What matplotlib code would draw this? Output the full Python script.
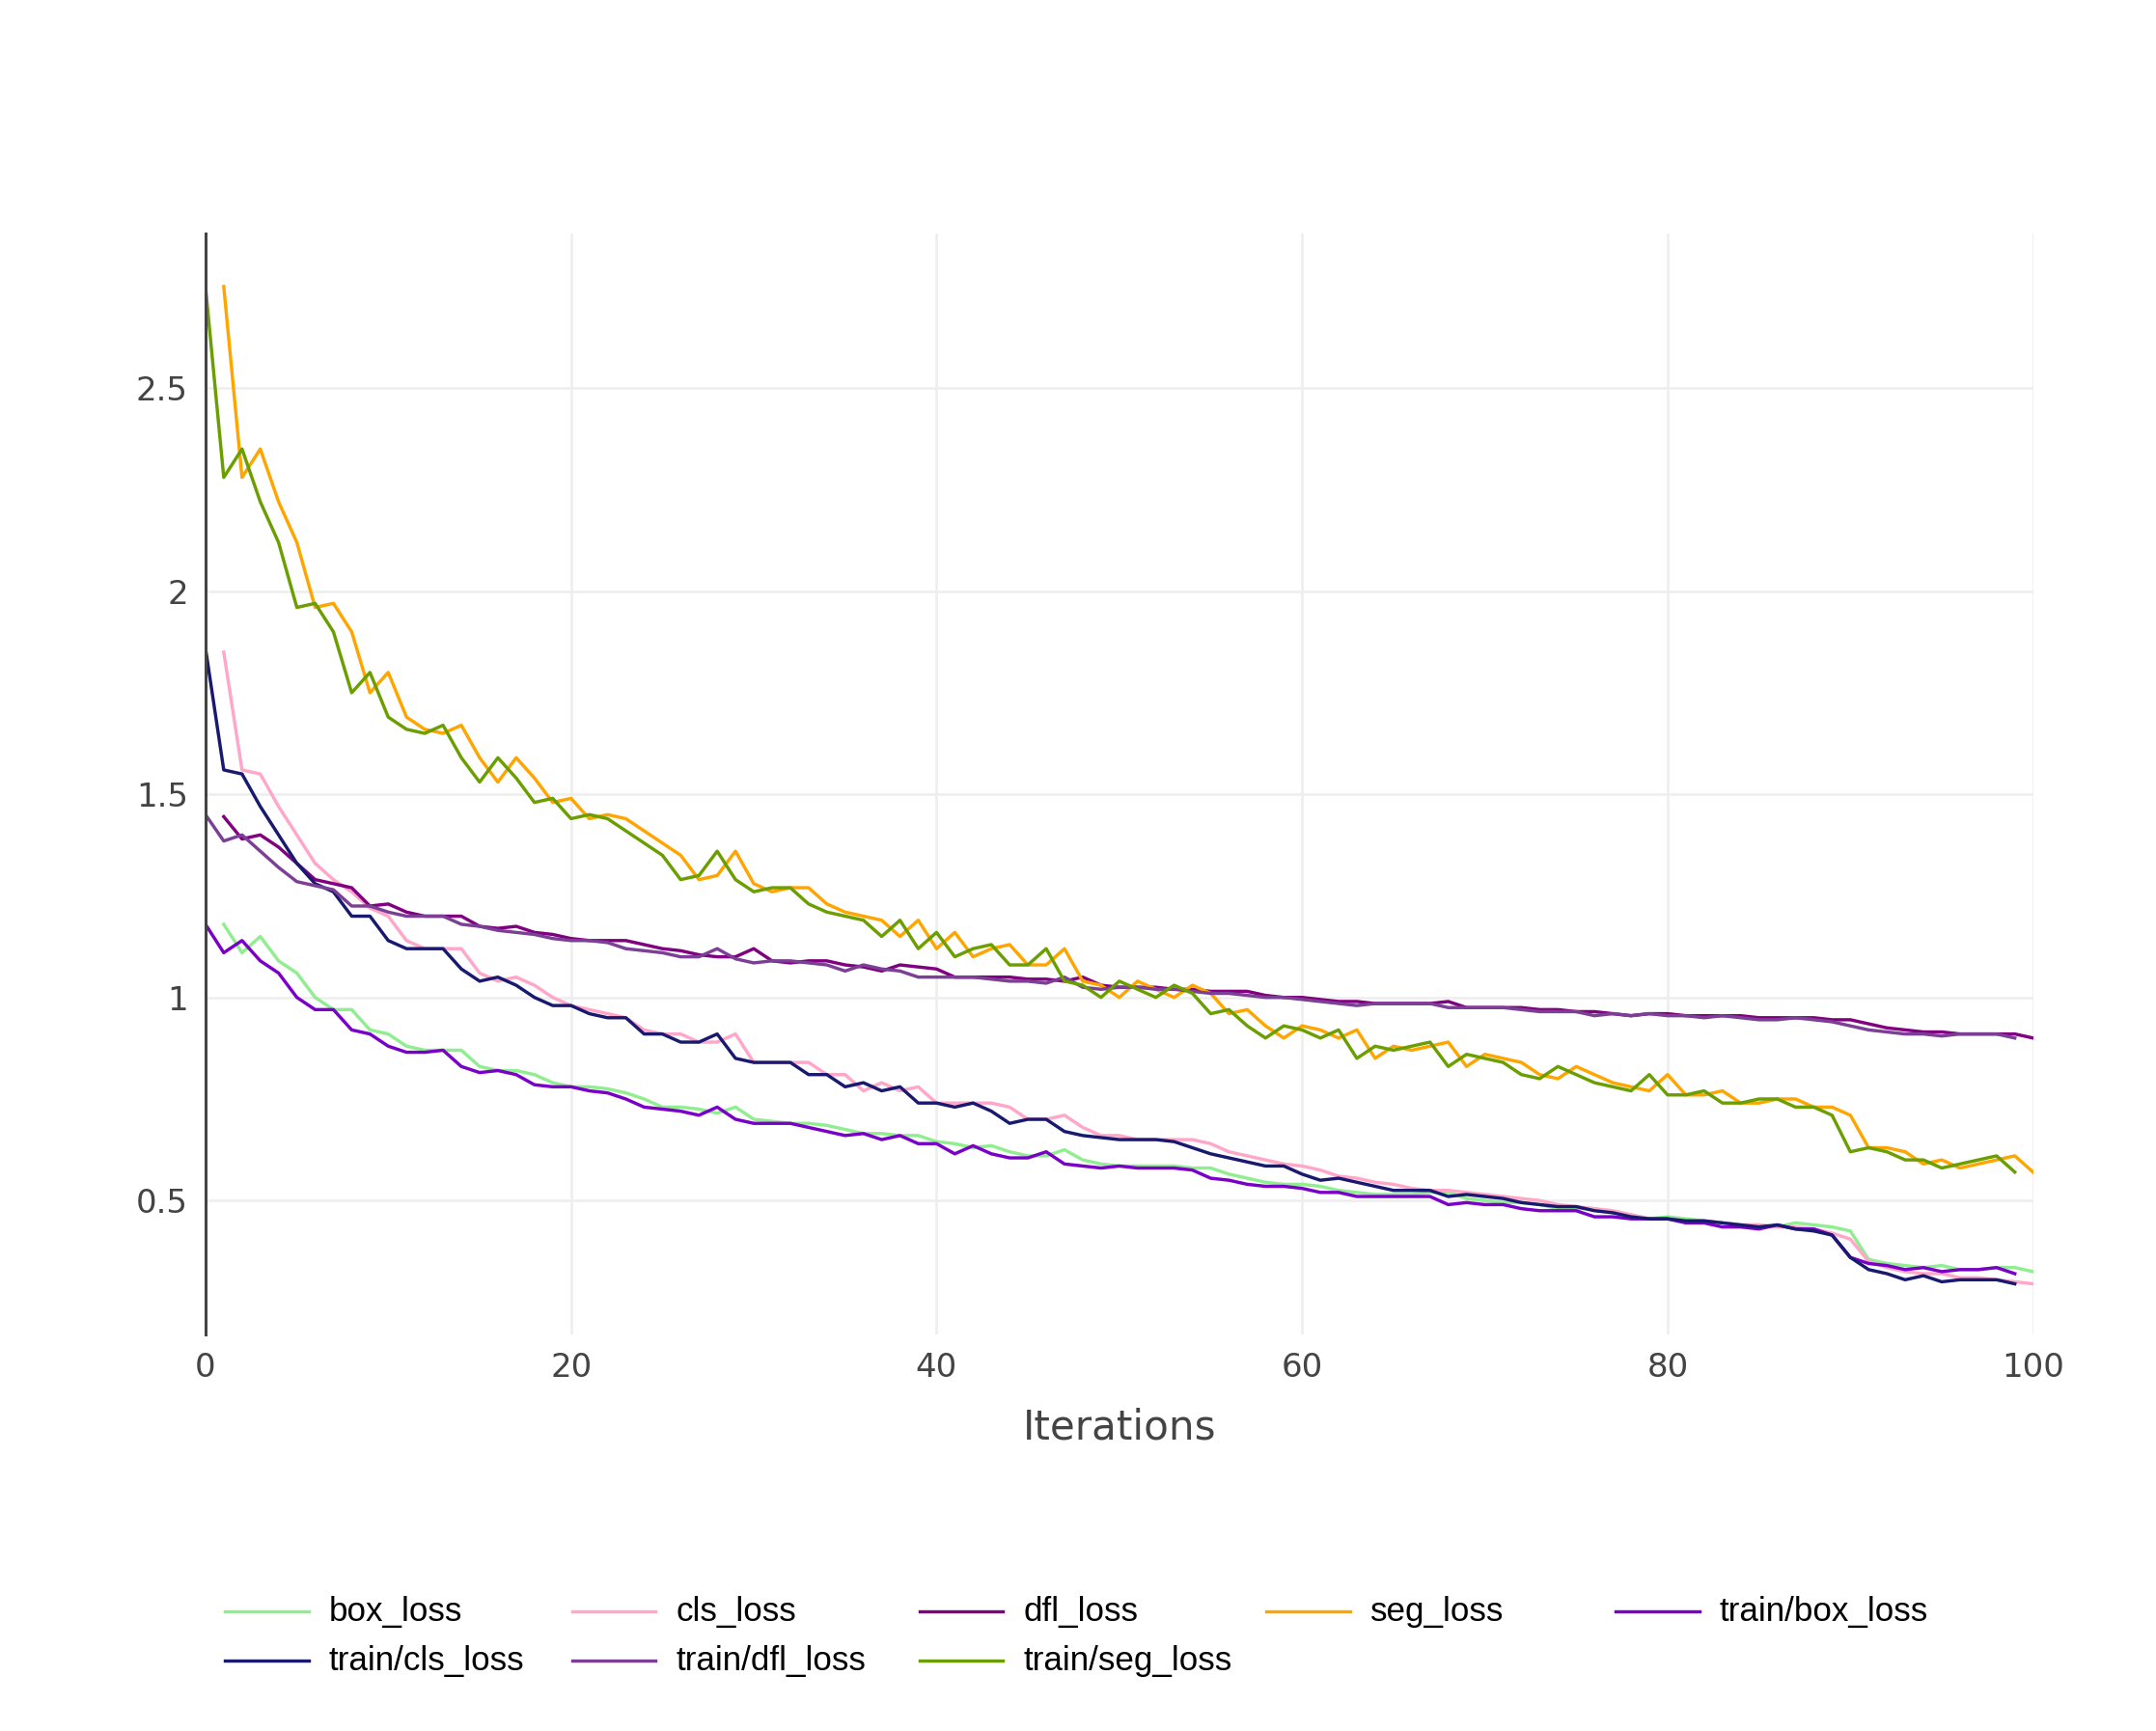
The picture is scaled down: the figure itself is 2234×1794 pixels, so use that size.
import matplotlib
matplotlib.use("Agg")
import matplotlib.pyplot as plt
from matplotlib.lines import Line2D
import numpy as np

# epochs: train series 0..99, validation series 1..100
train_x = np.arange(0, 100)
val_x = np.arange(1, 101)

box_loss = [1.18, 1.11, 1.15, 1.09, 1.06, 1.00, 0.97, 0.97, 0.92, 0.91,
            0.88, 0.87, 0.87, 0.87, 0.83, 0.82, 0.82, 0.81, 0.79, 0.78,
            0.78, 0.775, 0.765, 0.75, 0.73, 0.73, 0.725, 0.715, 0.73, 0.70,
            0.695, 0.69, 0.69, 0.685, 0.675, 0.665, 0.665, 0.66, 0.66, 0.645,
            0.64, 0.63, 0.635, 0.62, 0.61, 0.61, 0.625, 0.60, 0.59, 0.585,
            0.585, 0.585, 0.585, 0.58, 0.58, 0.565, 0.555, 0.545, 0.54, 0.54,
            0.535, 0.525, 0.52, 0.515, 0.515, 0.515, 0.52, 0.52, 0.505, 0.50,
            0.495, 0.495, 0.49, 0.48, 0.48, 0.48, 0.47, 0.465, 0.455, 0.46,
            0.455, 0.45, 0.445, 0.44, 0.44, 0.435, 0.445, 0.44, 0.435, 0.425,
            0.355, 0.345, 0.34, 0.335, 0.34, 0.33, 0.33, 0.335, 0.335, 0.325]

cls_loss = [1.85, 1.56, 1.55, 1.47, 1.40, 1.33, 1.29, 1.26, 1.22, 1.20,
            1.14, 1.12, 1.12, 1.12, 1.06, 1.04, 1.05, 1.03, 1.00, 0.98,
            0.97, 0.96, 0.95, 0.92, 0.91, 0.91, 0.89, 0.89, 0.91, 0.84,
            0.84, 0.84, 0.84, 0.81, 0.81, 0.77, 0.79, 0.77, 0.78, 0.74,
            0.74, 0.74, 0.74, 0.73, 0.70, 0.70, 0.71, 0.68, 0.66, 0.66,
            0.65, 0.65, 0.65, 0.65, 0.64, 0.62, 0.61, 0.60, 0.59, 0.585,
            0.575, 0.56, 0.555, 0.545, 0.54, 0.53, 0.525, 0.525, 0.52, 0.515,
            0.51, 0.505, 0.50, 0.49, 0.485, 0.48, 0.475, 0.465, 0.455, 0.455,
            0.45, 0.45, 0.445, 0.44, 0.44, 0.435, 0.435, 0.43, 0.42, 0.405,
            0.35, 0.335, 0.325, 0.32, 0.32, 0.31, 0.31, 0.305, 0.30, 0.295]

dfl_loss = [1.445, 1.39, 1.40, 1.37, 1.33, 1.29, 1.28, 1.27, 1.225, 1.23,
            1.21, 1.20, 1.20, 1.20, 1.175, 1.17, 1.175, 1.16, 1.155, 1.145,
            1.14, 1.14, 1.14, 1.13, 1.12, 1.115, 1.105, 1.10, 1.10, 1.12,
            1.09, 1.085, 1.09, 1.09, 1.08, 1.075, 1.065, 1.08, 1.075, 1.07,
            1.05, 1.05, 1.05, 1.05, 1.045, 1.045, 1.04, 1.05, 1.03, 1.025,
            1.025, 1.025, 1.02, 1.02, 1.015, 1.015, 1.015, 1.005, 1.00, 1.00,
            0.995, 0.99, 0.99, 0.985, 0.985, 0.985, 0.985, 0.99, 0.975, 0.975,
            0.975, 0.975, 0.97, 0.97, 0.965, 0.965, 0.96, 0.955, 0.96, 0.96,
            0.955, 0.955, 0.955, 0.955, 0.95, 0.95, 0.95, 0.95, 0.945, 0.945,
            0.935, 0.925, 0.92, 0.915, 0.915, 0.91, 0.91, 0.91, 0.91, 0.90]

seg_loss = [2.75, 2.28, 2.35, 2.22, 2.12, 1.96, 1.97, 1.90, 1.75, 1.80,
            1.69, 1.66, 1.65, 1.67, 1.59, 1.53, 1.59, 1.54, 1.48, 1.49,
            1.44, 1.45, 1.44, 1.41, 1.38, 1.35, 1.29, 1.30, 1.36, 1.28,
            1.26, 1.27, 1.27, 1.23, 1.21, 1.20, 1.19, 1.15, 1.19, 1.12,
            1.16, 1.10, 1.12, 1.13, 1.08, 1.08, 1.12, 1.04, 1.03, 1.00,
            1.04, 1.02, 1.00, 1.03, 1.01, 0.96, 0.97, 0.93, 0.90, 0.93,
            0.92, 0.90, 0.92, 0.85, 0.88, 0.87, 0.88, 0.89, 0.83, 0.86,
            0.85, 0.84, 0.81, 0.80, 0.83, 0.81, 0.79, 0.78, 0.77, 0.81,
            0.76, 0.76, 0.77, 0.74, 0.74, 0.75, 0.75, 0.73, 0.73, 0.71,
            0.63, 0.63, 0.62, 0.59, 0.60, 0.58, 0.59, 0.60, 0.61, 0.57]

train_box_loss = [1.18, 1.11, 1.14, 1.09, 1.06, 1.00, 0.97, 0.97, 0.92, 0.91,
                  0.88, 0.865, 0.865, 0.87, 0.83, 0.815, 0.82, 0.81, 0.785, 0.78,
                  0.78, 0.77, 0.765, 0.75, 0.73, 0.725, 0.72, 0.71, 0.73, 0.70,
                  0.69, 0.69, 0.69, 0.68, 0.67, 0.66, 0.665, 0.65, 0.66, 0.64,
                  0.64, 0.615, 0.635, 0.615, 0.605, 0.605, 0.62, 0.59, 0.585, 0.58,
                  0.585, 0.58, 0.58, 0.58, 0.575, 0.555, 0.55, 0.54, 0.535, 0.535,
                  0.53, 0.52, 0.52, 0.51, 0.51, 0.51, 0.51, 0.51, 0.49, 0.495,
                  0.49, 0.49, 0.48, 0.475, 0.475, 0.475, 0.46, 0.46, 0.455, 0.455,
                  0.455, 0.445, 0.445, 0.435, 0.435, 0.43, 0.44, 0.43, 0.43, 0.415,
                  0.36, 0.345, 0.34, 0.33, 0.335, 0.325, 0.33, 0.33, 0.335, 0.32]

train_cls_loss = [1.86, 1.56, 1.55, 1.47, 1.40, 1.33, 1.28, 1.26, 1.20, 1.20,
                  1.14, 1.12, 1.12, 1.12, 1.07, 1.04, 1.05, 1.03, 1.00, 0.98,
                  0.98, 0.96, 0.95, 0.95, 0.91, 0.91, 0.89, 0.89, 0.91, 0.85,
                  0.84, 0.84, 0.84, 0.81, 0.81, 0.78, 0.79, 0.77, 0.78, 0.74,
                  0.74, 0.73, 0.74, 0.72, 0.69, 0.70, 0.70, 0.67, 0.66, 0.655,
                  0.65, 0.65, 0.65, 0.645, 0.63, 0.615, 0.605, 0.595, 0.585, 0.585,
                  0.565, 0.55, 0.555, 0.545, 0.535, 0.525, 0.525, 0.525, 0.51, 0.515,
                  0.51, 0.505, 0.495, 0.49, 0.485, 0.485, 0.475, 0.47, 0.46, 0.455,
                  0.455, 0.45, 0.45, 0.445, 0.44, 0.435, 0.44, 0.43, 0.425, 0.415,
                  0.36, 0.33, 0.32, 0.305, 0.315, 0.30, 0.305, 0.305, 0.305, 0.295]

train_dfl_loss = [1.45, 1.385, 1.40, 1.36, 1.32, 1.285, 1.275, 1.265, 1.225, 1.225,
                  1.21, 1.20, 1.20, 1.20, 1.18, 1.175, 1.165, 1.16, 1.155, 1.145,
                  1.14, 1.14, 1.135, 1.12, 1.115, 1.11, 1.10, 1.10, 1.12, 1.095,
                  1.085, 1.09, 1.09, 1.085, 1.08, 1.065, 1.08, 1.07, 1.065, 1.05,
                  1.05, 1.05, 1.05, 1.045, 1.04, 1.04, 1.035, 1.05, 1.025, 1.02,
                  1.025, 1.025, 1.02, 1.02, 1.015, 1.01, 1.01, 1.005, 1.00, 1.00,
                  0.995, 0.99, 0.985, 0.98, 0.985, 0.985, 0.985, 0.985, 0.975, 0.975,
                  0.975, 0.975, 0.97, 0.965, 0.965, 0.965, 0.955, 0.96, 0.955, 0.96,
                  0.955, 0.955, 0.95, 0.955, 0.95, 0.945, 0.945, 0.95, 0.945, 0.94,
                  0.93, 0.92, 0.915, 0.91, 0.91, 0.905, 0.91, 0.91, 0.91, 0.90]

train_seg_loss = [2.75, 2.28, 2.35, 2.22, 2.12, 1.96, 1.97, 1.90, 1.75, 1.80,
                  1.69, 1.66, 1.65, 1.67, 1.59, 1.53, 1.59, 1.54, 1.48, 1.49,
                  1.44, 1.45, 1.44, 1.41, 1.38, 1.35, 1.29, 1.30, 1.36, 1.29,
                  1.26, 1.27, 1.27, 1.23, 1.21, 1.20, 1.19, 1.15, 1.19, 1.12,
                  1.16, 1.10, 1.12, 1.13, 1.08, 1.08, 1.12, 1.04, 1.03, 1.00,
                  1.04, 1.02, 1.00, 1.03, 1.01, 0.96, 0.97, 0.93, 0.90, 0.93,
                  0.92, 0.90, 0.92, 0.85, 0.88, 0.87, 0.88, 0.89, 0.83, 0.86,
                  0.85, 0.84, 0.81, 0.80, 0.83, 0.81, 0.79, 0.78, 0.77, 0.81,
                  0.76, 0.76, 0.77, 0.74, 0.74, 0.75, 0.75, 0.73, 0.73, 0.71,
                  0.62, 0.63, 0.62, 0.60, 0.60, 0.58, 0.59, 0.60, 0.61, 0.57]

series = [
    ("box_loss", val_x, box_loss, "#90ee90"),
    ("cls_loss", val_x, cls_loss, "#ffa6c9"),
    ("dfl_loss", val_x, dfl_loss, "#800080"),
    ("seg_loss", val_x, seg_loss, "#ffa500"),
    ("train/box_loss", train_x, train_box_loss, "#7a00c8"),
    ("train/cls_loss", train_x, train_cls_loss, "#191970"),
    ("train/dfl_loss", train_x, train_dfl_loss, "#7b3f95"),
    ("train/seg_loss", train_x, train_seg_loss, "#6b9e00"),
]

fig = plt.figure(figsize=(2234 / 144, 1794 / 144), dpi=144)
ax = fig.add_axes([0.0953, 0.229, 0.8477, 0.636])

for name, xs, ys, col in series:
    ax.plot(xs, ys, color=col, lw=1.7, label=name)

ax.set_xlim(0, 100)
ax.set_ylim(0.17, 2.88)
ax.set_xticks([0, 20, 40, 60, 80, 100])
ax.set_yticks([0.5, 1, 1.5, 2, 2.5])
ax.set_yticklabels(["0.5", "1", "1.5", "2", "2.5"])
ax.grid(True, color="#eeeeee", lw=1.3)
ax.set_axisbelow(True)
for s in ["top", "right", "bottom"]:
    ax.spines[s].set_visible(False)
ax.spines["left"].set_color("#444444")
ax.spines["left"].set_linewidth(1.5)
ax.tick_params(length=0, labelsize=17, colors="#444444", pad=9)
ax.set_xlabel("Iterations", fontsize=21, color="#444444", labelpad=12)

# manual legend, plotly style horizontal layout
col_x = [0.1045, 0.2655, 0.4265, 0.5875, 0.7495]
row_y = [0.069, 0.0405]
for i, (name, xs, ys, col) in enumerate(series):
    cx = col_x[i % 5]
    ry = row_y[i // 5]
    fig.add_artist(Line2D([cx, cx + 0.0386], [ry, ry], color=col, lw=1.7,
                          transform=fig.transFigure))
    fig.text(cx + 0.048, ry, name, fontsize=17.5, family="Liberation Sans",
             va="center", ha="left", color="black")

fig.savefig("out.png", dpi=144)
